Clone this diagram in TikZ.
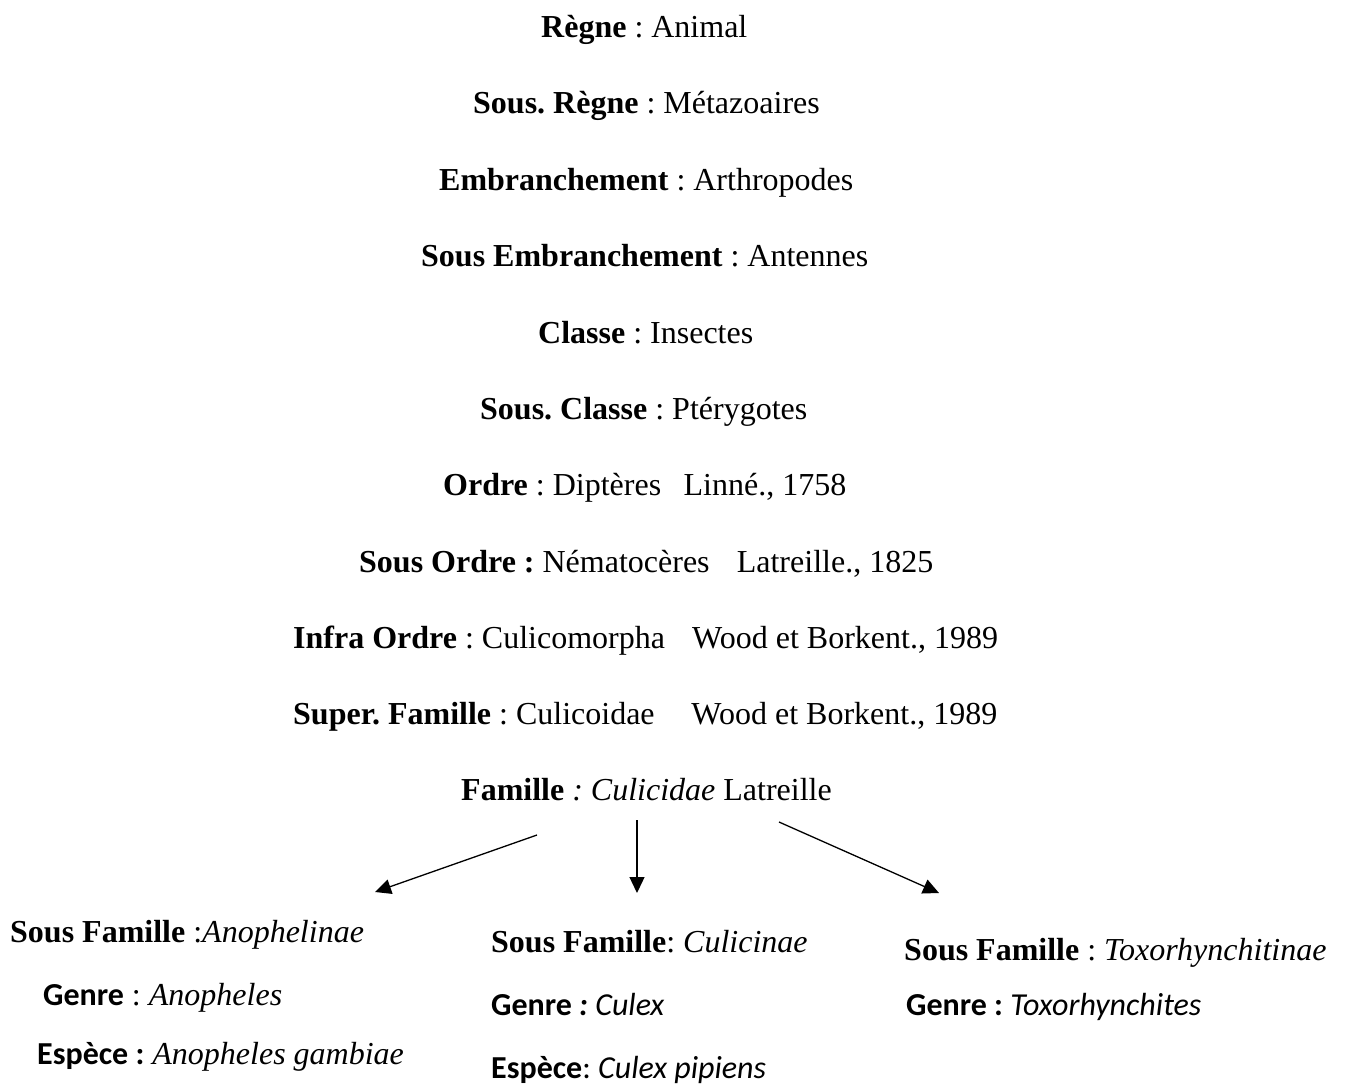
\documentclass[tikz,border=0pt]{standalone}
\usepackage{fontspec}
\setmainfont{Liberation Serif}
\newfontfamily\calfont{Carlito}
\usetikzlibrary{arrows.meta}
\frenchspacing
\begin{document}
\begin{tikzpicture}[x=1pt,y=-1pt,
  txt/.style={anchor=base west, inner sep=0pt, font=\fontsize{32}{38}\selectfont\frenchspacing},
  arr/.style={-{Triangle[length=16pt,width=15pt]}, line width=1.3pt}]
\useasboundingbox (0,0) rectangle (1346,1086);
\node[txt] (regne) at (541,38) {\textbf{Règne} : Animal};
\node[txt] (sregne) at (473,114) {\textbf{Sous. Règne} : Métazoaires};
\node[txt] (embr) at (439,190) {\textbf{Embranchement} : Arthropodes};
\node[txt] (sembr) at (421,266) {\textbf{Sous Embranchement} : Antennes};
\node[txt] (classe) at (538,343) {\textbf{Classe} : Insectes};
\node[txt] (sclasse) at (480,419) {\textbf{Sous. Classe} : Ptérygotes};
\node[txt] (ordre) at (443,495) {\textbf{Ordre} : Diptères\hspace{0.45em} Linné., 1758};
\node[txt] (sordre) at (359,572) {\textbf{Sous Ordre :} Nématocères\hspace{0.6em} Latreille., 1825};
\node[txt] (iordre) at (293,648) {\textbf{Infra Ordre} : Culicomorpha\hspace{0.6em} Wood et Borkent., 1989};
\node[txt] (sfam) at (293,724) {\textbf{Super. Famille} : Culicoidae\hspace{0.9em} Wood et Borkent., 1989};
\node[txt] (fam) at (461,800) {\textbf{Famille} \textit{: Culicidae} Latreille};

\node[txt] (sf1) at (10,942) {\textbf{Sous Famille} :\textit{Anophelinae}};
\node[txt] (g1) at (43,1005) {{\calfont\bfseries Genre} : \textit{Anopheles}};
\node[txt] (e1) at (37,1064) {{\calfont\bfseries Espèce :} \textit{Anopheles gambiae}};

\node[txt] (sf2) at (491,952) {\textbf{Sous Famille}: \textit{Culicinae}};
\node[txt] (g2) at (491,1015) {{\calfont\bfseries Genre \textit{:} \mdseries\itshape Culex}};
\node[txt] (e2) at (491,1078) {{\calfont\bfseries Espèce\mdseries : \itshape Culex pipiens}};

\node[txt] (sf3) at (904,960) {\textbf{Sous Famille} : \textit{Toxorhynchitinae}};
\node[txt] (g3) at (906,1015) {{\calfont\bfseries Genre : \mdseries\itshape Toxorhynchites}};

\coordinate (a1s) at (537,835);
\coordinate (a1e) at (375,892);
\coordinate (a2s) at (637,820);
\coordinate (a2e) at (637,893);
\coordinate (a3s) at (779,822);
\coordinate (a3e) at (939,893);
\draw[arr] (a1s) -- (a1e);
\draw[arr] (a2s) -- (a2e);
\draw[arr] (a3s) -- (a3e);
\end{tikzpicture}
\end{document}
